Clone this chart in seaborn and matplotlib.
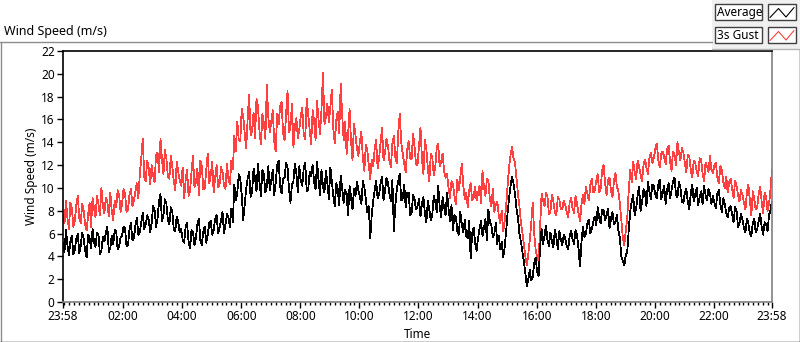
import numpy as np
import pandas as pd
import matplotlib
matplotlib.use("Agg")
import matplotlib.pyplot as plt
import seaborn as sns
from matplotlib.patches import Rectangle
from matplotlib.lines import Line2D

# ------------- data (m/s), samples every 6 min from 23:58 -------------
average_ms = [
    5.2, 6.3, 4.1, 5.8, 4.6, 6.0, 4.9, 5.5, 3.9, 5.6,
    6.4, 4.8, 5.9, 4.5, 5.3, 6.6, 4.7, 5.1, 6.2, 4.9,
    5.8, 6.5, 5.0, 6.9, 5.6, 7.4, 6.1, 7.8, 6.8, 7.2,
    6.9, 8.1, 7.3, 9.5, 7.6, 8.6, 6.8, 7.9, 6.2, 7.0,
    6.4, 5.2, 6.9, 4.7, 6.1, 5.6, 7.3, 5.0, 6.6, 5.9,
    7.1, 6.3, 7.6, 6.5, 7.9, 6.8, 7.4, 8.2, 10.3, 9.6,
    10.8, 7.2, 9.9, 11.4, 9.6, 10.9, 12.1, 9.3, 11.2, 10.1,
    9.8, 11.6, 10.4, 12.4, 9.5, 10.9, 11.8, 8.7, 10.6, 11.3,
    11.9, 10.2, 12.2, 9.8, 11.0, 10.5, 12.3, 9.4, 10.1, 11.5,
    9.0, 10.6, 8.4, 9.9, 11.1, 8.7, 9.5, 10.2, 8.1, 9.3,
    9.8, 8.6, 10.1, 7.9, 5.6, 8.9, 10.6, 9.4, 11.0, 9.7,
    10.4, 8.8, 6.2, 9.9, 11.2, 9.1, 8.3, 9.6, 7.8, 9.0,
    8.4, 7.5, 9.2, 7.0, 8.1, 7.6, 8.8, 10.2, 7.4, 8.3,
    9.6, 7.1, 6.3, 7.5, 5.9, 6.8, 7.2, 5.6, 3.8, 6.5,
    4.5, 6.4, 5.8, 7.3, 8.1, 6.7, 6.0, 5.1, 4.6, 3.9,
    6.2, 9.1, 11.0, 9.5, 7.4, 5.3, 3.6, 1.4, 2.8, 2.2,
    3.9, 2.3, 6.4, 5.8, 5.4, 6.1, 4.8, 5.7, 6.2, 5.0,
    5.6, 4.6, 6.2, 5.1, 5.9, 3.1, 6.6, 6.0, 7.2, 6.4,
    7.5, 8.3, 6.9, 8.0, 7.6, 6.5, 7.9, 7.0, 6.3, 4.0,
    3.2, 4.4, 7.9, 9.4, 8.2, 10.1, 8.7, 9.6, 10.5, 9.0,
    10.2, 9.1, 10.7, 9.5, 8.6, 10.4, 9.8, 10.9, 9.2, 10.0,
    8.7, 9.9, 8.1, 10.3, 9.4, 8.5, 9.7, 10.2, 8.9, 9.5,
    9.3, 8.2, 9.8, 7.9, 8.6, 7.4, 8.4, 7.0, 8.0, 6.9,
    7.2, 6.1, 6.9, 5.8, 7.3, 6.4, 7.7, 5.9, 6.8, 7.6, 8.8,
]

# readings taken half-way between the samples above (3, 9, 15 ... min after 23:58)
average_mid_ms = [
    4.4, 5.0, 5.3, 4.2, 5.5, 4.3, 6.1, 4.5, 5.9, 4.7,
    5.2, 6.1, 4.2, 5.7, 6.0, 4.4, 5.8, 6.3, 4.6, 5.7,
    6.6, 4.9, 6.3, 5.4, 6.7, 5.9, 7.0, 6.4, 7.6, 6.1,
    8.4, 6.6, 8.8, 7.1, 9.0, 7.2, 8.3, 6.4, 7.5, 6.1,
    5.5, 6.6, 5.3, 6.3, 5.0, 6.8, 5.4, 6.2, 5.2, 6.9,
    5.9, 7.3, 6.0, 7.2, 6.0, 7.7, 6.6, 7.0, 8.9, 11.2,
    9.4, 8.6, 10.8, 9.2, 11.7, 9.7, 10.5, 11.6, 9.6, 11.9,
    10.7, 9.4, 12.0, 10.1, 10.8, 12.2, 9.9, 10.3, 12.1, 9.6,
    10.6, 11.8, 9.7, 11.4, 12.0, 9.9, 10.7, 11.6, 9.6, 10.4,
    11.8, 9.3, 10.4, 8.5, 10.0, 9.8, 7.6, 9.2, 9.9, 10.5,
    9.2, 10.6, 9.0, 8.4, 7.6, 9.8, 9.1, 10.4, 8.9, 10.9,
    9.5, 10.7, 8.5, 10.6, 8.9, 10.3, 9.6, 7.6, 9.4, 8.1,
    9.0, 8.6, 7.8, 8.9, 7.2, 9.3, 7.9, 8.4, 9.2, 7.6,
    8.2, 8.5, 7.6, 6.2, 7.9, 6.1, 5.8, 7.1, 6.0, 5.2,
    5.6, 7.1, 6.5, 5.4, 7.0, 5.7, 6.9, 5.8, 5.3, 4.8,
    7.8, 10.2, 10.4, 8.2, 6.0, 4.4, 2.5, 2.0, 1.9, 3.4,
    2.6, 4.8, 5.1, 6.7, 4.9, 5.3, 6.3, 4.6, 5.5, 5.9,
    4.9, 5.8, 5.5, 6.3, 4.7, 5.2, 5.7, 6.9, 6.0, 7.0,
    6.7, 7.4, 8.1, 7.2, 8.2, 7.3, 6.8, 7.6, 5.6, 3.6,
    4.1, 6.3, 8.8, 7.6, 9.3, 8.0, 9.9, 8.4, 9.7, 10.3,
    9.4, 10.3, 9.0, 10.2, 9.9, 9.1, 10.6, 9.4, 10.5, 8.8,
    9.6, 8.8, 9.5, 8.8, 10.0, 9.2, 8.6, 9.4, 9.9, 8.6,
    8.7, 9.5, 8.6, 9.1, 7.8, 8.2, 7.7, 8.3, 6.6, 7.7,
    6.5, 7.3, 6.0, 6.9, 6.1, 7.1, 6.6, 7.0, 6.2, 8.1,
]

gust_ms = [
    7.6, 8.9, 6.4, 8.2, 7.1, 9.3, 6.9, 8.0, 6.3, 8.7,
    9.1, 7.4, 8.6, 10.0, 7.8, 8.8, 9.6, 7.2, 8.3, 9.4,
    8.6, 9.5, 8.1, 9.9, 8.9, 10.4, 11.2, 14.3, 10.6, 11.8,
    12.0, 10.5, 13.1, 14.3, 11.2, 12.6, 10.8, 11.9, 9.8, 11.4,
    10.2, 9.1, 11.6, 9.7, 12.8, 10.5, 9.4, 11.9, 10.0, 13.0,
    11.1, 9.6, 12.0, 10.3, 11.4, 9.9, 10.8, 12.4, 14.6, 15.8,
    14.1, 16.3, 13.5, 18.2, 15.0, 14.4, 17.1, 13.8, 15.7, 19.0,
    14.9, 16.8, 13.2, 15.6, 17.5, 14.2, 18.5, 15.3, 13.6, 16.1,
    15.2, 17.0, 14.3, 16.4, 13.8, 15.9, 17.6, 14.7, 20.1, 16.2,
    15.8, 18.6, 13.9, 16.7, 19.1, 14.2, 13.0, 16.9, 12.4, 14.6,
    12.8, 14.9, 11.5, 13.3, 10.8, 11.9, 14.2, 12.6, 15.3, 13.1,
    13.7, 11.8, 14.6, 12.2, 16.5, 13.0, 11.4, 14.1, 12.5, 13.6,
    12.0, 15.3, 11.2, 13.4, 10.6, 12.7, 11.8, 13.9, 12.3, 11.5,
    11.2, 9.1, 10.3, 8.6, 9.8, 12.1, 9.0, 8.3, 10.4, 9.2,
    8.9, 10.2, 11.5, 9.3, 10.6, 8.4, 7.9, 8.8, 6.9, 6.2,
    8.4, 11.8, 13.6, 12.2, 9.5, 7.0, 5.1, 3.2, 5.4, 8.7,
    4.6, 3.6, 9.5, 8.4, 9.2, 7.9, 8.8, 7.6, 9.0, 8.1,
    8.5, 7.4, 9.1, 7.8, 8.6, 7.1, 9.4, 10.1, 8.9, 10.8,
    9.8, 11.2, 10.0, 12.0, 9.4, 10.9, 9.2, 11.3, 9.7, 7.2,
    5.0, 7.4, 11.6, 12.3, 10.8, 11.9, 10.6, 12.5, 11.2, 13.1,
    12.6, 13.9, 11.8, 13.2, 12.1, 13.7, 11.5, 12.9, 14.0, 12.4,
    13.1, 11.4, 12.7, 10.9, 12.2, 11.0, 12.5, 10.6, 11.9, 12.8,
    11.3, 12.2, 10.4, 11.6, 10.0, 9.6, 10.8, 9.1, 10.2, 8.8,
    9.4, 8.1, 10.3, 7.6, 9.0, 8.3, 10.1, 7.8, 9.2, 8.6, 11.6,
]

gust_mid_ms = [
    6.9, 7.4, 8.7, 6.6, 8.5, 7.4, 8.6, 6.8, 7.6, 6.6,
    8.2, 9.3, 7.6, 8.4, 9.1, 7.5, 8.0, 8.9, 9.8, 7.9,
    9.9, 7.9, 9.4, 8.4, 9.7, 9.1, 12.6, 11.0, 12.4, 10.3,
    11.1, 12.9, 11.4, 12.5, 13.3, 11.0, 12.8, 10.6, 12.3, 10.7,
    11.8, 10.6, 9.3, 11.4, 10.1, 11.7, 12.4, 9.9, 11.6, 10.4,
    12.3, 10.9, 10.1, 11.8, 10.2, 12.1, 10.3, 11.6, 13.2, 14.2,
    16.9, 14.8, 16.0, 14.6, 16.6, 17.8, 15.0, 16.5, 14.3, 16.2,
    15.8, 14.1, 16.5, 17.2, 14.8, 16.4, 14.9, 17.4, 15.4, 14.4,
    16.3, 14.6, 17.8, 15.1, 16.8, 14.2, 16.0, 16.9, 15.6, 17.4,
    17.1, 15.2, 15.9, 14.8, 16.4, 15.8, 14.7, 14.1, 15.6, 13.5,
    14.1, 12.6, 13.8, 12.0, 12.5, 13.4, 11.7, 14.0, 12.4, 14.3,
    12.4, 13.9, 12.7, 14.9, 14.0, 12.1, 13.3, 12.6, 14.7, 12.1,
    13.6, 12.6, 14.2, 11.7, 13.0, 11.1, 13.5, 11.9, 13.0, 10.9,
    10.0, 10.6, 9.3, 10.7, 11.0, 10.2, 9.6, 9.8, 8.9, 10.1,
    9.5, 8.7, 10.1, 10.8, 9.0, 9.9, 8.5, 7.6, 8.0, 7.1,
    10.2, 12.9, 12.6, 10.8, 8.4, 6.1, 4.0, 4.2, 6.9, 6.0,
    3.9, 6.6, 8.9, 9.6, 7.7, 9.4, 7.9, 9.2, 8.2, 8.9,
    7.9, 8.7, 8.2, 9.3, 7.8, 8.5, 8.6, 9.5, 10.3, 9.6,
    10.6, 9.6, 11.5, 10.4, 10.7, 9.7, 10.6, 10.1, 8.6, 5.6,
    6.2, 9.8, 10.5, 11.4, 12.4, 11.2, 12.0, 11.8, 12.6, 12.2,
    13.4, 12.5, 13.0, 12.7, 13.4, 12.3, 13.2, 12.0, 13.1, 13.5,
    12.2, 12.9, 11.6, 12.4, 11.5, 12.6, 11.3, 12.2, 11.4, 11.6,
    12.0, 10.9, 11.9, 10.5, 11.0, 10.5, 9.9, 10.6, 9.4, 9.8,
    8.7, 9.6, 8.9, 9.7, 8.1, 9.5, 8.8, 9.6, 8.0, 9.9,
]

sample_step_min = 6
tick_minutes = [0, 122, 242, 362, 482, 602, 722, 842, 962, 1082, 1202, 1322, 1440]
tick_labels = ["23:58", "02:00", "04:00", "06:00", "08:00", "10:00", "12:00",
               "14:00", "16:00", "18:00", "20:00", "22:00", "23:58"]
y_ticks = list(range(0, 23, 2))

# ------------- assemble the readings into one time-ordered table -------------
t_main = np.arange(len(average_ms)) * sample_step_min
t_mid = np.arange(len(average_mid_ms)) * sample_step_min + sample_step_min / 2
df = pd.DataFrame({
    "Time": np.concatenate([t_main, t_mid]),
    "Average": np.concatenate([average_ms, average_mid_ms]),
    "3s Gust": np.concatenate([gust_ms, gust_mid_ms]),
}).sort_values("Time").reset_index(drop=True)

# ---------------- style ----------------
sns.set_theme(style="white")
plt.rcParams["font.family"] = ["Noto Sans", "DejaVu Sans"]

W, H = 800, 342
fig = plt.figure(figsize=(W / 100, H / 100), dpi=100)
fig.patch.set_facecolor("white")


def fx(px):
    return px / W


def fy(py):
    return 1 - py / H


ax = fig.add_axes([fx(63), fy(302), fx(772) - fx(63), fy(51) - fy(302)])
ax.set_facecolor("white")

sns.lineplot(data=df, x="Time", y="3s Gust", ax=ax, color="#ff4040", lw=0.55,
             antialiased=False)
sns.lineplot(data=df, x="Time", y="Average", ax=ax, color="black", lw=0.55,
             antialiased=False)

ax.set_xlim(0, 1440)
ax.set_ylim(0, 22)
ax.set_xlabel("")
ax.set_ylabel("")
ax.set_yticks(y_ticks)
ax.set_yticklabels([str(v) for v in y_ticks])
ax.set_xticks(tick_minutes)
ax.set_xticklabels(tick_labels)
ax.set_xticks(np.arange(2, 1440, 10), minor=True)

ax.tick_params(axis="both", which="major", direction="out", length=4, width=1,
               color="black", labelsize=8.5, pad=2, labelcolor="black")
ax.tick_params(axis="x", which="minor", direction="out", length=2.2, width=1,
               color="black", bottom=True)
ax.tick_params(axis="y", left=True)
ax.tick_params(axis="x", bottom=True)
ax.grid(False)

for side, col in [("left", "black"), ("top", "black"), ("right", "#808080"), ("bottom", "#808080")]:
    ax.spines[side].set_visible(True)
    ax.spines[side].set_color(col)
    ax.spines[side].set_linewidth(1.2)

# axis titles
fig.text(fx(32), fy(176), "Wind Speed (m/s)", rotation=90, ha="center", va="center",
         fontsize=8.5, color="black")
fig.text(fx(418), fy(334), "Time", ha="center", va="center", fontsize=8.5, color="black")
fig.text(fx(4), fy(32), "Wind Speed (m/s)", ha="left", va="center", fontsize=9, color="black")


# outer frame
def hline(x0, x1, y, color, lw=1.0):
    fig.add_artist(Line2D([fx(x0), fx(x1)], [fy(y), fy(y)], color=color, lw=lw))


def vline(x, y0, y1, color, lw=1.0):
    fig.add_artist(Line2D([fx(x), fx(x)], [fy(y0), fy(y1)], color=color, lw=lw))


hline(0, 712, 41.5, "#8c8c8c")
vline(0.5, 41.5, 341, "#8c8c8c")
hline(0, 800, 341.5, "black")
vline(799.5, 49, 342, "black")

# legend panel
fig.add_artist(Rectangle((fx(712), fy(49)), fx(800) - fx(712), fy(0) - fy(49),
                         facecolor="#f0f0f0", edgecolor="none"))
hline(712, 800, 49, "#b4b4b4")

legend_items = [("Average", "black", 4), ("3s Gust", "#ff4040", 27)]
for label, col, top in legend_items:
    fig.add_artist(Rectangle((fx(715), fy(top + 16)), fx(47) - fx(0), fy(0) - fy(16),
                             facecolor="white", edgecolor="#404040", lw=1))
    fig.text(fx(717), fy(top + 8.5), label, ha="left", va="center", fontsize=8.5, color="black")
    fig.add_artist(Rectangle((fx(768), fy(top + 16)), fx(28) - fx(0), fy(0) - fy(16),
                             facecolor="white", edgecolor="#404040", lw=1))
    fig.add_artist(Line2D([fx(770), fx(778.5), fx(786), fx(794)],
                          [fy(top + 13.5), fy(top + 4.5), fy(top + 13), fy(top + 3.5)],
                          color=col, lw=0.8))

fig.savefig("out.png", dpi=100)
